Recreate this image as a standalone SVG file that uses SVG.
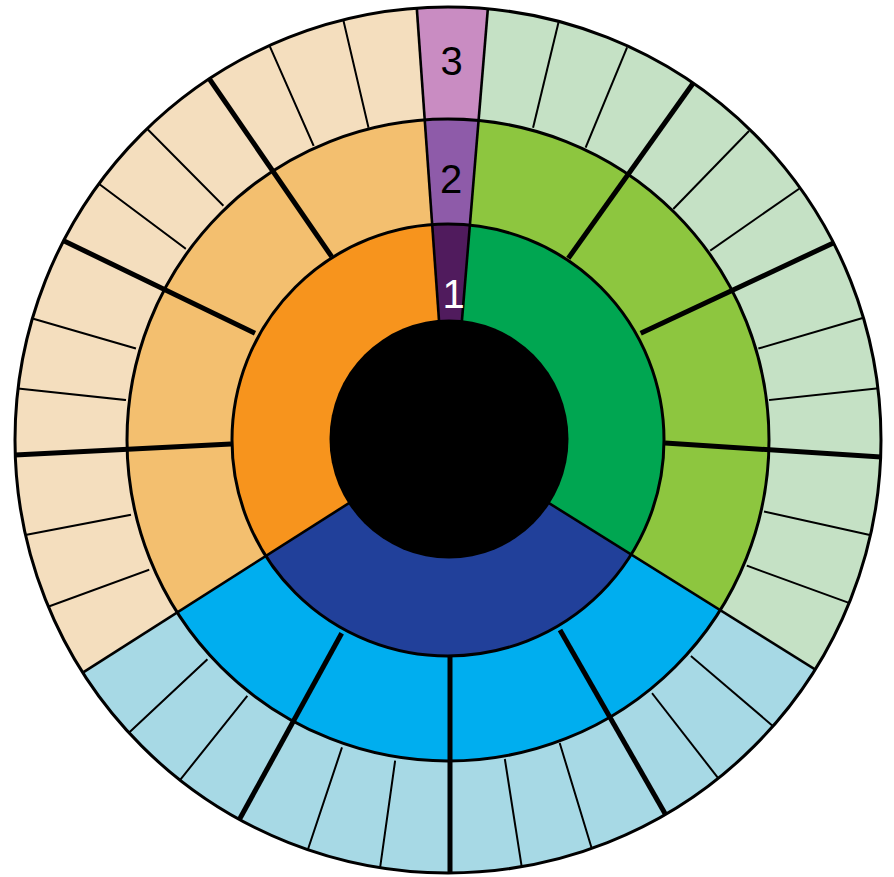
<svg xmlns="http://www.w3.org/2000/svg" xmlns:xlink="http://www.w3.org/1999/xlink" width="894" height="877" viewBox="0 0 894 877">
<style>
.ring{fill:none;stroke:#000;stroke-width:3}
.edge{stroke:#000;stroke-width:2.6;fill:none}
.thick{stroke:#000;stroke-width:5;fill:none}
.thin{stroke:#000;stroke-width:2;fill:none;stroke-linecap:square}
.lbl{font-family:"Liberation Sans",Arial,sans-serif;font-size:40px;text-anchor:middle}
</style>
<defs>
<clipPath id="c3"><circle cx="448" cy="440" r="433"/></clipPath>
<clipPath id="c2"><circle cx="448" cy="440" r="321"/></clipPath>
<clipPath id="c1"><circle cx="448" cy="440" r="216"/></clipPath>
<polygon id="sW" points="447.5,440 409.1,-100 496.9,-100 452,440"/>
<polygon id="sG" points="452,440 496.9,-100 1400,-100 1400,1035 448,440"/>
<polygon id="sB" points="448,440 1400,1035 1400,1500 -600,1500 -600,1107.6"/>
<polygon id="sO" points="448,440 -600,1107.6 -600,-100 409.1,-100 447.5,440"/>
</defs>
<rect width="894" height="877" fill="#fff"/>
<g id="ring3" clip-path="url(#c3)">
<use href="#sW" xlink:href="#sW" fill="#C98CC2"/>
<use href="#sG" xlink:href="#sG" fill="#C5E1C5"/>
<use href="#sB" xlink:href="#sB" fill="#A7D9E5"/>
<use href="#sO" xlink:href="#sO" fill="#F4DEBE"/>
</g>
<g id="ring2" clip-path="url(#c2)">
<use href="#sW" xlink:href="#sW" fill="#8E5BA9"/>
<use href="#sG" xlink:href="#sG" fill="#8DC63F"/>
<use href="#sB" xlink:href="#sB" fill="#00AEEF"/>
<use href="#sO" xlink:href="#sO" fill="#F3BF6F"/>
</g>
<g id="ring1" clip-path="url(#c1)">
<use href="#sW" xlink:href="#sW" fill="#501B5D"/>
<use href="#sG" xlink:href="#sG" fill="#00A651"/>
<use href="#sB" xlink:href="#sB" fill="#21409A"/>
<use href="#sO" xlink:href="#sO" fill="#F7941D"/>
</g>
<g id="dividers" clip-path="url(#c3)">
<line class="edge" x1="447.5" y1="440" x2="409.1" y2="-100"/>
<line class="edge" x1="452" y1="440" x2="496.9" y2="-100"/>
<line class="edge" x1="448" y1="440" x2="1400" y2="1035"/>
<line class="edge" x1="448" y1="440" x2="-600" y2="1107.6"/>
<line class="thick" x1="331.7" y1="256.7" x2="206" y2="74"/>
<line class="thick" x1="255" y1="333.3" x2="58" y2="238"/>
<line class="thick" x1="231" y1="444" x2="10" y2="455.2"/>
<line class="thick" x1="568.3" y1="258.3" x2="694" y2="82"/>
<line class="thick" x1="640.7" y1="333.3" x2="836" y2="241.7"/>
<line class="thick" x1="665" y1="443" x2="885" y2="457.3"/>
<line class="thick" x1="560" y1="630" x2="667" y2="817"/>
<line class="thick" x1="450" y1="656" x2="450" y2="877"/>
<line class="thick" x1="341.7" y1="633.3" x2="238" y2="822"/>
<line class="thin" x1="368.3" y1="126.7" x2="343.3" y2="20"/>
<line class="thin" x1="313.3" y1="145" x2="270" y2="46.7"/>
<line class="thin" x1="222.7" y1="205" x2="148.3" y2="130"/>
<line class="thin" x1="185" y1="248.3" x2="98.3" y2="183.3"/>
<line class="thin" x1="135" y1="348.3" x2="31.7" y2="318.3"/>
<line class="thin" x1="125" y1="400" x2="16.7" y2="388.3"/>
<line class="thin" x1="130" y1="515" x2="25" y2="535"/>
<line class="thin" x1="148.3" y1="570" x2="48.3" y2="606.7"/>
<line class="thin" x1="533.3" y1="126.7" x2="558.3" y2="23.3"/>
<line class="thin" x1="586" y1="146.7" x2="626.7" y2="48.3"/>
<line class="thin" x1="674" y1="208.3" x2="748.3" y2="131.7"/>
<line class="thin" x1="711" y1="250" x2="798.3" y2="189.3"/>
<line class="thin" x1="759.3" y1="348.3" x2="861.7" y2="318.3"/>
<line class="thin" x1="770" y1="400" x2="877.7" y2="388.3"/>
<line class="thin" x1="765" y1="511.7" x2="870" y2="535"/>
<line class="thin" x1="747.7" y1="566" x2="850" y2="603.3"/>
<line class="thin" x1="691.7" y1="656.7" x2="771.7" y2="725"/>
<line class="thin" x1="652.7" y1="694" x2="718.3" y2="778.3"/>
<line class="thin" x1="560" y1="744" x2="591.7" y2="848.3"/>
<line class="thin" x1="505" y1="760" x2="521.7" y2="866.7"/>
<line class="thin" x1="395" y1="761.7" x2="380" y2="868.3"/>
<line class="thin" x1="341.7" y1="748.3" x2="308.3" y2="848.3"/>
<line class="thin" x1="246.7" y1="696.7" x2="180" y2="780"/>
<line class="thin" x1="206.7" y1="660" x2="128.3" y2="733.3"/>
</g>
<g id="rings">
<circle class="ring" cx="448" cy="440" r="433"/>
<circle class="ring" cx="448" cy="440" r="321"/>
<circle class="ring" cx="448" cy="440" r="216"/>
</g>
<g id="hub"><circle cx="449" cy="439" r="119.5" fill="#000"/></g>
<g id="labels">
<text class="lbl" x="451.5" y="75" fill="#000">3</text>
<text class="lbl" x="451" y="193" fill="#000">2</text>
<text class="lbl" x="453.5" y="308" fill="#fff">1</text>
</g>
</svg>
